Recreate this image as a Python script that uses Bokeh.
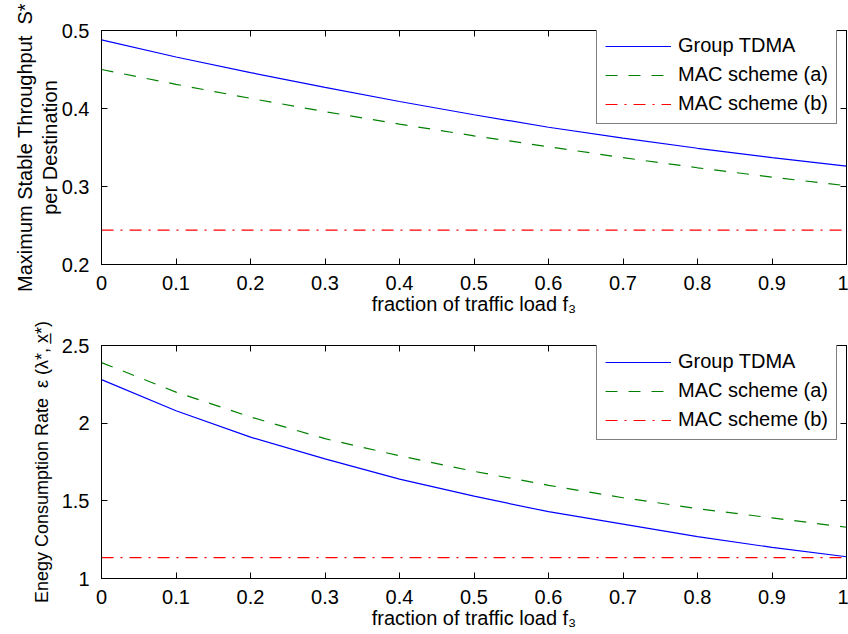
from bokeh.embed import file_html
from bokeh.layouts import column
from bokeh.models import (FixedTicker, Legend, LegendItem, LinearAxis,
                          NumeralTickFormatter, Range1d)
from bokeh.plotting import figure
from bokeh.resources import INLINE

# ---------------- data ----------------
f3 = [0.0, 0.1, 0.2, 0.3, 0.4, 0.5, 0.6, 0.7, 0.8, 0.9, 1.0]

thr_group_tdma = [0.488, 0.466, 0.446, 0.427, 0.409, 0.392, 0.376, 0.362, 0.349, 0.337, 0.326]
thr_mac_a = [0.450, 0.431, 0.413, 0.396, 0.380, 0.365, 0.351, 0.337, 0.324, 0.312, 0.301]
thr_mac_b = [0.244, 0.244, 0.244, 0.244, 0.244, 0.244, 0.244, 0.244, 0.244, 0.244, 0.244]

energy_group_tdma = [2.28, 2.08, 1.91, 1.77, 1.64, 1.53, 1.43, 1.35, 1.27, 1.20, 1.14]
energy_mac_a = [2.39, 2.20, 2.04, 1.90, 1.79, 1.69, 1.60, 1.52, 1.45, 1.39, 1.33]
energy_mac_b = [1.135, 1.135, 1.135, 1.135, 1.135, 1.135, 1.135, 1.135, 1.135, 1.135, 1.135]

x_ticks = [0, 0.1, 0.2, 0.3, 0.4, 0.5, 0.6, 0.7, 0.8, 0.9, 1]
thr_ticks = [0.2, 0.3, 0.4, 0.5]
energy_ticks = [1, 1.5, 2, 2.5]
series_labels = ["Group TDMA", "MAC scheme (a)", "MAC scheme (b)"]
x_title = "fraction of traffic load f\u2083"
thr_title = "Maximum Stable Throughput \u00a0S*\nper Destination"
energy_title = "Enegy Consumption Rate \u00a0\u03b5 (\u03bb*, x\u0332*)"

FONT = "Liberation Sans"
FS = "20px"
FRAME_LEFT = 101
FRAME_W = 745


def tick_only_axis(ticks):
    # mirror axis (top / right) with inward ticks and no labels, like a boxed MATLAB axes
    return LinearAxis(ticker=FixedTicker(ticks=ticks), major_label_text_font_size="1px",
                      major_label_text_color=None, major_label_standoff=0,
                      major_tick_in=6, major_tick_out=0,
                      minor_tick_line_color=None, axis_line_color="black")


def make_panel(series, y_lo, y_hi, y_ticks, y_title, y_title_size, y_title_standoff,
               frame_h, b_top, b_bottom, legend_vy):
    p = figure(frame_width=FRAME_W, frame_height=frame_h,
               x_range=Range1d(0, 1), y_range=Range1d(y_lo, y_hi),
               output_backend="svg", toolbar_location=None, tools="",
               min_border_left=FRAME_LEFT, min_border_right=2,
               min_border_top=b_top, min_border_bottom=b_bottom,
               background_fill_color="white", border_fill_color="white")
    p.xgrid.visible = False
    p.ygrid.visible = False
    p.outline_line_color = "black"
    p.outline_line_width = 1

    for ax, ticks in ((p.xaxis[0], x_ticks), (p.yaxis[0], y_ticks)):
        ax.ticker = FixedTicker(ticks=ticks)
        ax.formatter = NumeralTickFormatter(format="0.[0]")
        ax.major_tick_in = 6
        ax.major_tick_out = 0
        ax.minor_tick_line_color = None
        ax.axis_line_color = "black"
        ax.major_tick_line_color = "black"
        ax.major_label_text_font = FONT
        ax.major_label_text_font_size = FS
        ax.major_label_text_color = "black"
        ax.axis_label_text_font = FONT
        ax.axis_label_text_font_size = FS
        ax.axis_label_text_font_style = "normal"
        ax.axis_label_text_color = "black"
    p.xaxis[0].major_label_standoff = 11
    p.yaxis[0].major_label_standoff = 12
    p.xaxis[0].axis_label = x_title
    p.xaxis[0].axis_label_standoff = 0
    p.yaxis[0].axis_label = y_title
    p.yaxis[0].axis_label_standoff = y_title_standoff
    p.yaxis[0].axis_label_text_font_size = y_title_size
    p.yaxis[0].axis_label_text_line_height = 1.1

    p.add_layout(tick_only_axis(x_ticks), "above")
    p.add_layout(tick_only_axis(y_ticks), "right")

    styles = [dict(line_color="#0000ff", line_dash="solid"),
              dict(line_color="#008000", line_dash="12 11"),
              dict(line_color="#ff0000", line_dash="12 7 2 7")]
    items = []
    for ys, st, lab in zip(series, styles, series_labels):
        r = p.line(f3, ys, line_width=1.2, **st)
        items.append(LegendItem(label=lab, renderers=[r]))

    legend = Legend(items=items, location=(596 - FRAME_LEFT, legend_vy),
                    label_text_font=FONT, label_text_font_size=FS, label_text_color="black",
                    border_line_color="black", border_line_width=1,
                    background_fill_color="white", background_fill_alpha=1,
                    padding=8, spacing=6, margin=0, glyph_width=66, glyph_height=20,
                    label_height=20, label_standoff=7)
    p.add_layout(legend, "center")
    return p


p1 = make_panel([thr_group_tdma, thr_mac_a, thr_mac_b], 0.2, 0.5, thr_ticks,
                thr_title, FS, -2, 234, 30, 53, 140)
p2 = make_panel([energy_group_tdma, energy_mac_a, energy_mac_b], 1, 2.5, energy_ticks,
                energy_title, "18px", 7, 233, 28, 56, 138)

layout = column(p1, p2, spacing=0)
open("out.html", "w").write(file_html(layout, INLINE))
